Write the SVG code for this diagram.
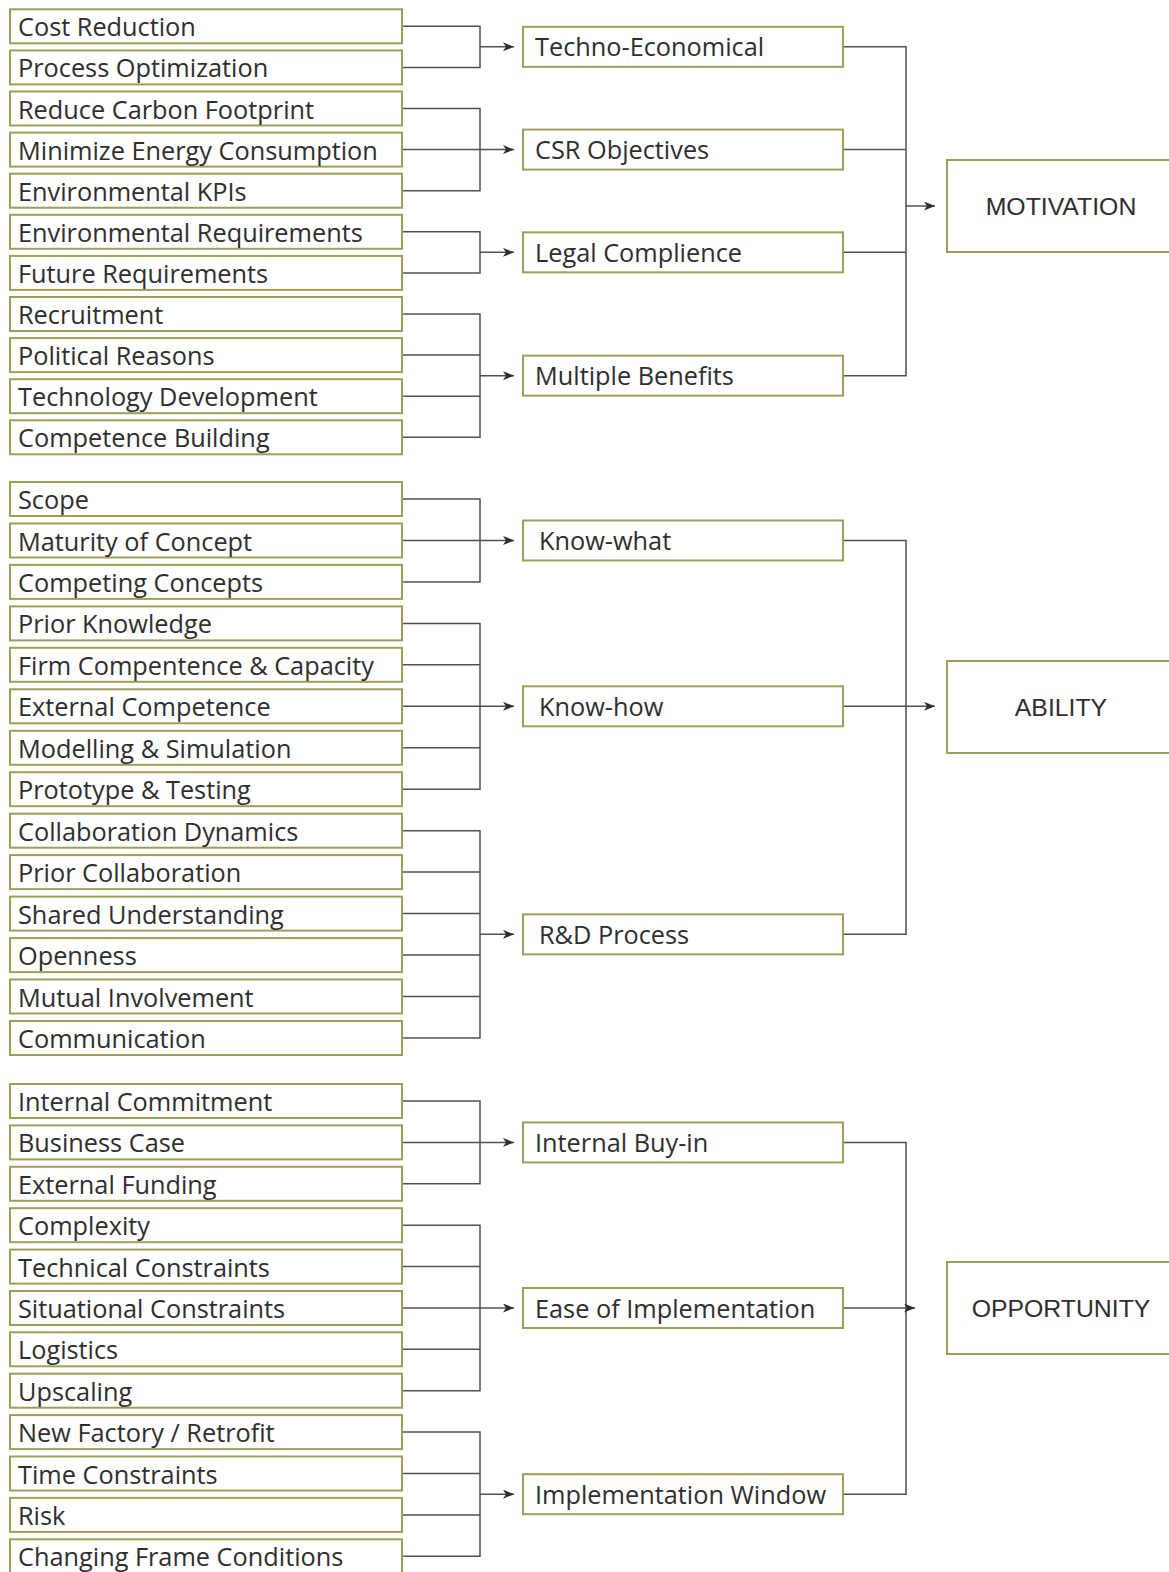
<svg xmlns="http://www.w3.org/2000/svg" width="1169" height="1572" viewBox="0 0 1169 1572">
<style>
.lb{fill:#fff;stroke:#9e9e58;stroke-width:2}
.mb{fill:#fff;stroke:#9e9e58;stroke-width:2}
.rb{fill:#fff;stroke:#9e9e58;stroke-width:2}
.t{font-family:"Open Sans","Noto Sans","DejaVu Sans",sans-serif;font-size:25.3px;fill:#2e2e2e}
.rt{font-family:"Liberation Sans",Arial,sans-serif;font-size:24.8px;fill:#2e2e2e;text-anchor:middle}
.c{fill:none;stroke:#505050;stroke-width:1.5}
.a{fill:none;stroke:#505050;stroke-width:1.5;marker-end:url(#ah)}
</style>
<defs>
<marker id="ah" markerUnits="userSpaceOnUse" markerWidth="13" markerHeight="11" refX="11" refY="4.5" orient="auto">
<path d="M0,0 L11,4.5 L0,9 L3,4.5 z" fill="#2e2e2e"/>
</marker>
</defs>
<rect width="1169" height="1572" fill="#fff"/>

<g id="left-nodes">
<g id="n-cost-reduction"><rect class="lb" x="10" y="9.3" width="392" height="34"/><text class="t" x="18" y="36.3">Cost Reduction</text></g>
<g id="n-process-optimization"><rect class="lb" x="10" y="50.4" width="392" height="34"/><text class="t" x="18" y="77.4">Process Optimization</text></g>
<g id="n-reduce-carbon"><rect class="lb" x="10" y="91.5" width="392" height="34"/><text class="t" x="18" y="118.5">Reduce Carbon Footprint</text></g>
<g id="n-minimize-energy"><rect class="lb" x="10" y="132.6" width="392" height="34"/><text class="t" x="18" y="159.6">Minimize Energy Consumption</text></g>
<g id="n-env-kpis"><rect class="lb" x="10" y="173.7" width="392" height="34"/><text class="t" x="18" y="200.7">Environmental KPIs</text></g>
<g id="n-env-req"><rect class="lb" x="10" y="214.8" width="392" height="34"/><text class="t" x="18" y="241.8">Environmental Requirements</text></g>
<g id="n-future-req"><rect class="lb" x="10" y="255.9" width="392" height="34"/><text class="t" x="18" y="282.9">Future Requirements</text></g>
<g id="n-recruitment"><rect class="lb" x="10" y="297" width="392" height="34"/><text class="t" x="18" y="324">Recruitment</text></g>
<g id="n-political"><rect class="lb" x="10" y="338.1" width="392" height="34"/><text class="t" x="18" y="365.1">Political Reasons</text></g>
<g id="n-tech-dev"><rect class="lb" x="10" y="379.2" width="392" height="34"/><text class="t" x="18" y="406.2">Technology Development</text></g>
<g id="n-competence-building"><rect class="lb" x="10" y="420.3" width="392" height="34"/><text class="t" x="18" y="447.3">Competence Building</text></g>

<g id="n-scope"><rect class="lb" x="10" y="482" width="392" height="34"/><text class="t" x="18" y="509">Scope</text></g>
<g id="n-maturity"><rect class="lb" x="10" y="523.5" width="392" height="34"/><text class="t" x="18" y="550.5">Maturity of Concept</text></g>
<g id="n-competing"><rect class="lb" x="10" y="564.9" width="392" height="34"/><text class="t" x="18" y="591.9">Competing Concepts</text></g>
<g id="n-prior-knowledge"><rect class="lb" x="10" y="606.4" width="392" height="34"/><text class="t" x="18" y="633.4">Prior Knowledge</text></g>
<g id="n-firm-competence"><rect class="lb" x="10" y="647.8" width="392" height="34"/><text class="t" x="18" y="674.8">Firm Compentence &amp; Capacity</text></g>
<g id="n-external-competence"><rect class="lb" x="10" y="689.3" width="392" height="34"/><text class="t" x="18" y="716.3">External Competence</text></g>
<g id="n-modelling"><rect class="lb" x="10" y="730.8" width="392" height="34"/><text class="t" x="18" y="757.8">Modelling &amp; Simulation</text></g>
<g id="n-prototype"><rect class="lb" x="10" y="772.2" width="392" height="34"/><text class="t" x="18" y="799.2">Prototype &amp; Testing</text></g>
<g id="n-collab-dyn"><rect class="lb" x="10" y="813.7" width="392" height="34"/><text class="t" x="18" y="840.7">Collaboration Dynamics</text></g>
<g id="n-prior-collab"><rect class="lb" x="10" y="855.1" width="392" height="34"/><text class="t" x="18" y="882.1">Prior Collaboration</text></g>
<g id="n-shared"><rect class="lb" x="10" y="896.6" width="392" height="34"/><text class="t" x="18" y="923.6">Shared Understanding</text></g>
<g id="n-openness"><rect class="lb" x="10" y="938.1" width="392" height="34"/><text class="t" x="18" y="965.1">Openness</text></g>
<g id="n-mutual"><rect class="lb" x="10" y="979.5" width="392" height="34"/><text class="t" x="18" y="1006.5">Mutual Involvement</text></g>
<g id="n-communication"><rect class="lb" x="10" y="1021" width="392" height="34"/><text class="t" x="18" y="1048">Communication</text></g>

<g id="n-internal-commitment"><rect class="lb" x="10" y="1084" width="392" height="34"/><text class="t" x="18" y="1111">Internal Commitment</text></g>
<g id="n-business-case"><rect class="lb" x="10" y="1125.4" width="392" height="34"/><text class="t" x="18" y="1152.4">Business Case</text></g>
<g id="n-external-funding"><rect class="lb" x="10" y="1166.8" width="392" height="34"/><text class="t" x="18" y="1193.8">External Funding</text></g>
<g id="n-complexity"><rect class="lb" x="10" y="1208.2" width="392" height="34"/><text class="t" x="18" y="1235.2">Complexity</text></g>
<g id="n-technical-constraints"><rect class="lb" x="10" y="1249.6" width="392" height="34"/><text class="t" x="18" y="1276.6">Technical Constraints</text></g>
<g id="n-situational-constraints"><rect class="lb" x="10" y="1291" width="392" height="34"/><text class="t" x="18" y="1318">Situational Constraints</text></g>
<g id="n-logistics"><rect class="lb" x="10" y="1332.3" width="392" height="34"/><text class="t" x="18" y="1359.3">Logistics</text></g>
<g id="n-upscaling"><rect class="lb" x="10" y="1373.7" width="392" height="34"/><text class="t" x="18" y="1400.7">Upscaling</text></g>
<g id="n-new-factory"><rect class="lb" x="10" y="1415.1" width="392" height="34"/><text class="t" x="18" y="1442.1">New Factory / Retrofit</text></g>
<g id="n-time-constraints"><rect class="lb" x="10" y="1456.5" width="392" height="34"/><text class="t" x="18" y="1483.5">Time Constraints</text></g>
<g id="n-risk"><rect class="lb" x="10" y="1497.9" width="392" height="34"/><text class="t" x="18" y="1524.9">Risk</text></g>
<g id="n-changing-frame"><rect class="lb" x="10" y="1539.3" width="392" height="34"/><text class="t" x="18" y="1566.3">Changing Frame Conditions</text></g>
</g>

<g id="mid-nodes">
<g id="m-techno"><rect class="mb" x="523" y="26.85" width="320" height="40"/><text class="t" x="535" y="56.3">Techno-Economical</text></g>
<g id="m-csr"><rect class="mb" x="523" y="129.6" width="320" height="40"/><text class="t" x="535" y="159.1">CSR Objectives</text></g>
<g id="m-legal"><rect class="mb" x="523" y="232.35" width="320" height="40"/><text class="t" x="535" y="261.8">Legal Complience</text></g>
<g id="m-multiple"><rect class="mb" x="523" y="355.65" width="320" height="40"/><text class="t" x="535" y="385.1">Multiple Benefits</text></g>
<g id="m-know-what"><rect class="mb" x="523" y="520.5" width="320" height="40"/><text class="t" x="539" y="550">Know-what</text></g>
<g id="m-know-how"><rect class="mb" x="523" y="686.3" width="320" height="40"/><text class="t" x="539" y="715.8">Know-how</text></g>
<g id="m-rd"><rect class="mb" x="523" y="914.35" width="320" height="40"/><text class="t" x="539" y="943.8">R&amp;D Process</text></g>
<g id="m-buy-in"><rect class="mb" x="523" y="1122.4" width="320" height="40"/><text class="t" x="535" y="1151.9">Internal Buy-in</text></g>
<g id="m-ease"><rect class="mb" x="523" y="1288" width="320" height="40"/><text class="t" x="535" y="1317.5">Ease of Implementation</text></g>
<g id="m-window"><rect class="mb" x="523" y="1474.2" width="320" height="40"/><text class="t" x="535" y="1503.7">Implementation Window</text></g>
</g>

<g id="right-nodes">
<g id="r-motivation"><rect class="rb" x="947" y="160" width="240" height="92"/><text class="rt" x="1061" y="215">MOTIVATION</text></g>
<g id="r-ability"><rect class="rb" x="947" y="661" width="240" height="92"/><text class="rt" x="1061" y="716">ABILITY</text></g>
<g id="r-opportunity"><rect class="rb" x="947" y="1262" width="240" height="92"/><text class="rt" x="1061" y="1317">OPPORTUNITY</text></g>
</g>

<g id="connectors">
<path class="c" d="M403,26.3 H480 V67.4 H403"/>
<path class="a" d="M480,46.85 H514"/>
<path class="c" d="M403,108.5 H480 V190.7 H403"/>
<path class="a" d="M403,149.6 H514"/>
<path class="c" d="M403,231.8 H480 V272.9 H403"/>
<path class="a" d="M480,252.35 H514"/>
<path class="c" d="M403,314 H480 V437.3 H403 M403,355.1 H480 M403,396.2 H480"/>
<path class="a" d="M480,375.65 H514"/>
<path class="c" d="M844,46.85 H906 V375.65 H844 M844,149.6 H906 M844,252.35 H906"/>
<path class="a" d="M906,206 H935"/>

<path class="c" d="M403,499 H480 V581.9 H403"/>
<path class="a" d="M403,540.5 H514"/>
<path class="c" d="M403,623.4 H480 V789.2 H403 M403,664.8 H480 M403,747.8 H480"/>
<path class="a" d="M403,706.3 H514"/>
<path class="c" d="M403,830.7 H480 V1038 H403 M403,872.1 H480 M403,913.6 H480 M403,955.1 H480 M403,996.5 H480"/>
<path class="a" d="M480,934.35 H514"/>
<path class="c" d="M844,540.5 H906 V934.35 H844"/>
<path class="a" d="M844,706.3 H935"/>

<path class="c" d="M403,1101 H480 V1183.8 H403"/>
<path class="a" d="M403,1142.4 H514"/>
<path class="c" d="M403,1225.2 H480 V1390.7 H403 M403,1266.6 H480 M403,1349.3 H480"/>
<path class="a" d="M403,1308 H514"/>
<path class="c" d="M403,1432.1 H480 V1556.3 H403 M403,1473.5 H480 M403,1514.9 H480"/>
<path class="a" d="M480,1494.2 H514"/>
<path class="c" d="M844,1142.4 H906 V1494.2 H844"/>
<path class="a" d="M844,1308 H915"/>
</g>
</svg>
